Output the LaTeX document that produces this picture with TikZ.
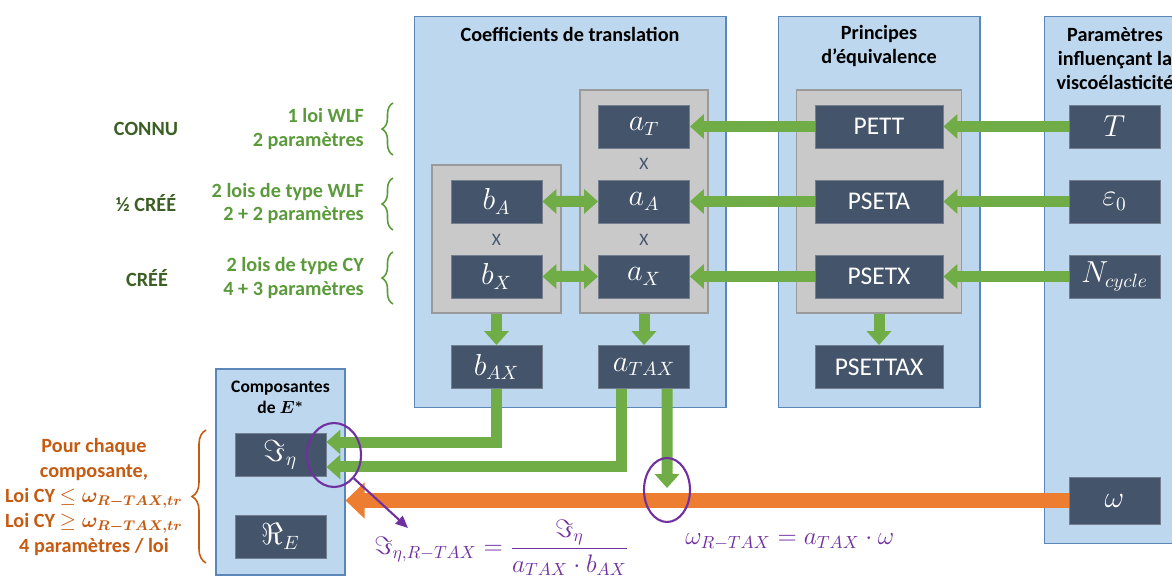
\documentclass[tikz,border=0pt]{standalone}
\usepackage{amsmath}
\usepackage{amssymb}
\usepackage{fontspec}
\setmainfont{Carlito}
\usetikzlibrary{arrows.meta,positioning,shapes.geometric,decorations.pathreplacing}
\definecolor{panelblue}{HTML}{BDD7EE}
\definecolor{paneledge}{HTML}{5B87B8}
\definecolor{groupgray}{HTML}{C9C9C9}
\definecolor{groupedge}{HTML}{9A9A9A}
\definecolor{slate}{HTML}{44546A}
\definecolor{leafgreen}{HTML}{70AD47}
\definecolor{textgreen}{HTML}{5A9A3A}
\definecolor{darkgreen}{HTML}{3B5F24}
\definecolor{burnt}{HTML}{ED7D31}
\definecolor{rust}{HTML}{C55A11}
\definecolor{purpleline}{HTML}{7030A0}

\begin{document}
\begin{tikzpicture}[
    x=0.02cm, y=-0.02cm,
    node distance=1.5cm,
    panel/.style={draw=paneledge, fill=panelblue, line width=0.6pt, inner sep=0pt},
    grouping/.style={draw=groupedge, fill=groupgray, line width=0.8pt, inner sep=0pt},
    darkbox/.style={draw=slate!75!white, fill=slate, text=white, line width=0.5pt, minimum width=1.82cm, minimum height=0.86cm, inner sep=0pt, font=\fontsize{14.5}{17}\selectfont},
    symbox/.style={darkbox, font=\fontsize{16}{19}\selectfont},
    widebox/.style={darkbox, minimum width=2.56cm},
    title/.style={align=center, font=\bfseries\fontsize{11.5}{13.6}\selectfont},
    mult/.style={text=slate, font=\fontsize{10}{12}\selectfont},
    leftlabel/.style={text=darkgreen, font=\bfseries\fontsize{11.5}{13.6}\selectfont},
    lawtext/.style={text=textgreen, align=right, font=\bfseries\fontsize{11.5}{13.6}\selectfont},
    ruletext/.style={text=rust, align=center, font=\bfseries\fontsize{11.5}{14.2}\selectfont},
    gbrace/.style={draw=textgreen, line width=0.9pt, decorate, decoration={brace, amplitude=0.22cm}},
    obrace/.style={draw=rust, line width=0.9pt, decorate, decoration={brace, amplitude=0.28cm}},
    garrow/.style={draw=leafgreen, line width=0.22cm, -{Triangle[width=0.48cm,length=0.28cm]}},
    gdouble/.style={draw=leafgreen, line width=0.22cm, {Triangle[width=0.48cm,length=0.28cm]}-{Triangle[width=0.48cm,length=0.28cm]}},
    oarrow/.style={draw=burnt, line width=0.3cm, -{Triangle[width=0.7cm,length=0.38cm]}},
    lens/.style={draw=purpleline, ellipse, line width=1.2pt, inner sep=0pt},
    parrow/.style={draw=purpleline, line width=1.2pt, -{Triangle[width=6pt,length=7pt]}},
    formula/.style={text=purpleline, inner sep=0pt, font=\fontsize{14}{17}\selectfont}
]
\useasboundingbox (0,0) rectangle (1172,580);
\clip (0,0) rectangle (1172,580);

\node[panel, minimum width=6.24cm, minimum height=7.84cm] (coef) at (570,212) {};
\node[panel, minimum width=4.04cm, minimum height=7.84cm] (princ) at (879,212) {};
\node[panel, minimum width=2.84cm, minimum height=10.56cm] (param) at (1115,280) {};
\node[panel, minimum width=2.58cm, minimum height=4.12cm] (comp) at (280.5,472) {};
\node[title] (coeftitle) at (570,34) {Coefficients de translation};
\node[title] (princtitle) at (879,46) {Principes\\d’équivalence};
\node[title] (paramtitle) at (1115,58.5) {Paramètres\\influençant la\\viscoélasticité};
\node[title, font=\bfseries\boldmath\fontsize{10}{12}\selectfont] (comptitle) at (280.5,397.5) {Composantes\\de $E^{*}$};

\node[grouping, minimum width=2.58cm, minimum height=2.96cm] (bgroup) at (496.5,239) {};
\node[grouping, minimum width=2.56cm, minimum height=4.46cm] (agroup) at (644,201.5) {};
\node[grouping, minimum width=3.3cm, minimum height=4.46cm] (pgroup) at (879,201.5) {};

\node[symbox] (aT) at (644,126.5) {$a_T$};
\node[symbox, below of=aT] (aA) {$a_A$};
\node[symbox, below of=aA] (aX) {$a_X$};
\node[symbox] (bA) at (496.5,201.5) {$b_A$};
\node[symbox, below of=bA] (bX) {$b_X$};
\node[symbox] (bAX) at (496.5,367) {$b_{AX}$};
\node[symbox] (aTAX) at (644,367) {$a_{TAX}$};
\node[widebox] (PETT) at (879,126.5) {PETT};
\node[widebox, below of=PETT] (PSETA) {PSETA};
\node[widebox, below of=PSETA] (PSETX) {PSETX};
\node[widebox] (PSETTAX) at (879,367) {PSETTAX};
\node[symbox] (T) at (1114.5,126.5) {$T$};
\node[symbox, below of=T] (eps) {$\varepsilon_0$};
\node[symbox, below of=eps] (N) {$N_{cycle}$};
\node[symbox, minimum height=0.94cm] (omega) at (1114.5,500.5) {$\omega$};
\node[symbox] (Ieta) at (280.5,455) {$\Im_\eta$};
\node[symbox] (ReE) at (280.5,536.5) {$\Re_E$};
\node[mult] (xa1) at (644,164) {X};
\node[mult] (xa2) at (644,240) {X};
\node[mult] (xb) at (496.5,240) {X};

\node[leftlabel] (connu) at (146,129) {CONNU};
\node[leftlabel] (demi) at (146,203) {½ CRÉÉ};
\node[leftlabel] (cree) at (147,278) {CRÉÉ};
\node[lawtext, anchor=east] (law1) at (370,129) {1 loi WLF\\2 paramètres};
\node[lawtext, anchor=east] (law2) at (370,203.5) {2 lois de type WLF\\2 + 2 paramètres};
\node[lawtext, anchor=east] (law3) at (370,278) {2 lois de type CY\\4 + 3 paramètres};
\draw[gbrace] (393,155) -- (393,103);
\draw[gbrace] (393,230) -- (393,178);
\draw[gbrace] (393,304) -- (393,252);
\node[ruletext] (rule) at (94,497) {Pour chaque\\composante,\\Loi CY $\leq \boldsymbol{\omega_{R-TAX,tr}}$\\Loi CY $\geq \boldsymbol{\omega_{R-TAX,tr}}$\\4 paramètres / loi};
\draw[obrace] (206,563) -- (206,430);

\draw[oarrow] (omega) -- (omega.west -| comp.east);
\draw[garrow] (T) -- (PETT);
\draw[garrow] (PETT) -- (aT);
\draw[garrow] (eps) -- (PSETA);
\draw[garrow] (PSETA) -- (aA);
\draw[garrow] (N) -- (PSETX);
\draw[garrow] (PSETX) -- (aX);
\draw[gdouble] (bA) -- (aA);
\draw[gdouble] (bX) -- (aX);
\draw[garrow] (bgroup) -- (bAX);
\draw[garrow] (agroup) -- (aTAX);
\draw[garrow] (pgroup) -- (PSETTAX);
\draw[garrow] (bAX) |- ([yshift=0.26cm]Ieta.east);
\draw[garrow] ([xshift=-0.46cm]aTAX.south) |- ([yshift=-0.24cm]Ieta.east);
\coordinate (cross) at (667,488);
\draw[garrow] ([xshift=0.46cm]aTAX.south) -- (cross);

\node[lens, minimum width=1.08cm, minimum height=1.28cm] (lensI) at (334,455) {};
\node[lens, minimum width=0.92cm, minimum height=1.28cm] (lensW) at (667,490) {};
\coordinate (formtip) at (408,528);
\draw[parrow] (lensI.south east) -- (formtip);
\node[formula, anchor=west] (formI) at (374,548) {$\displaystyle \Im_{\eta,R-TAX} = \frac{\Im_\eta}{a_{TAX}\cdot b_{AX}}$};
\node[formula, anchor=west] (formW) at (685,542) {$\omega_{R-TAX} = a_{TAX}\cdot\omega$};
\end{tikzpicture}
\end{document}
